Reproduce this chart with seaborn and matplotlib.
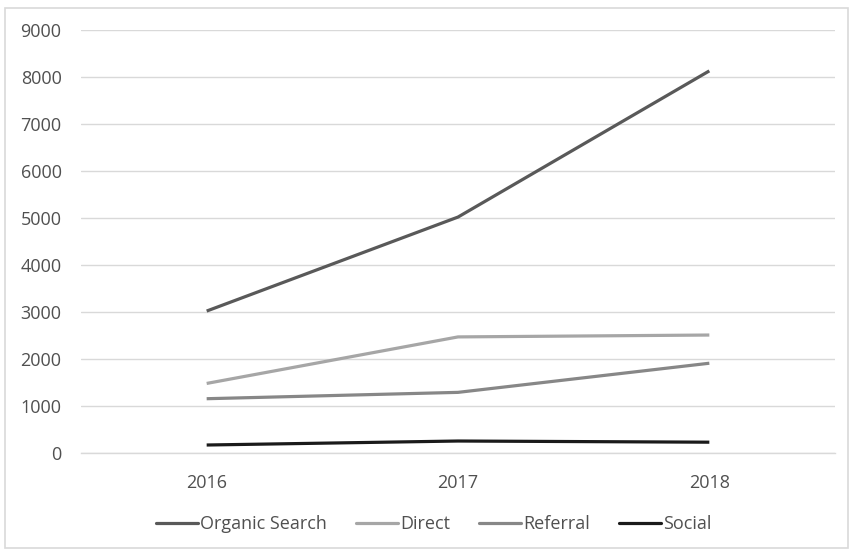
import matplotlib
matplotlib.use("Agg")
import matplotlib.pyplot as plt
from matplotlib.patches import Rectangle
from matplotlib.lines import Line2D
import seaborn as sns
import pandas as pd

years = ["2016", "2017", "2018"]
organic_search = [3020, 5020, 8130]
direct = [1480, 2470, 2510]
referral = [1155, 1290, 1910]
social = [170, 255, 230]

series_names = ["Organic Search", "Direct", "Referral", "Social"]
series_values = [organic_search, direct, referral, social]
series_colors = ["#595959", "#a6a6a6", "#878787", "#1a1a1a"]
y_ticks = [0, 1000, 2000, 3000, 4000, 5000, 6000, 7000, 8000, 9000]

rows = []
for name, vals in zip(series_names, series_values):
    for i, (yr, v) in enumerate(zip(years, vals)):
        rows.append({"pos": i, "year": yr, "series": name, "value": v})
df = pd.DataFrame(rows)

sns.set_theme(style="white")
plt.rcParams["font.family"] = ["Open Sans", "DejaVu Sans"]

W, H = 852, 553
fig = plt.figure(figsize=(W / 100, H / 100), dpi=100)
ax = fig.add_axes([81 / W, (H - 453) / H, (835 - 81) / W, (453 - 30) / H])

# chart-area border
fig.patches.append(Rectangle((5 / W, 5 / H), (848 - 5) / W, (547 - 7) / H,
                             transform=fig.transFigure, fill=False,
                             edgecolor="#d9d9d9", linewidth=1.2))

sns.lineplot(data=df, x="pos", y="value", hue="series", hue_order=series_names,
             palette=series_colors, linewidth=2.3, ax=ax, legend=False,
             solid_capstyle="butt")

text_color = "#505050"
ax.set_xlim(-0.5, 2.5)
ax.set_ylim(0, 9000)
ax.set_xticks(range(len(years)))
ax.set_xticklabels(years)
ax.set_yticks(y_ticks)
ax.set_yticklabels([str(t) for t in y_ticks])
ax.yaxis.grid(True, color="#d9d9d9", linewidth=1.0)
ax.set_axisbelow(True)
for s in ["top", "right", "left"]:
    ax.spines[s].set_visible(False)
ax.spines["bottom"].set_color("#d9d9d9")
ax.spines["bottom"].set_linewidth(1.0)
ax.tick_params(axis="both", length=0, labelsize=13, labelcolor=text_color)
ax.tick_params(axis="y", pad=14)
ax.tick_params(axis="x", pad=15)
ax.set_xlabel("")
ax.set_ylabel("")

handles = [Line2D([0], [0], color=c, linewidth=2.3) for c in series_colors]
fig.legend(handles, series_names, loc="center", bbox_to_anchor=(434 / W, (H - 524) / H),
           ncol=4, frameon=False, fontsize=13, handlelength=2.3, handletextpad=0.15,
           columnspacing=1.6, labelcolor=text_color)

fig.savefig("out.png", dpi=100, facecolor="white")
